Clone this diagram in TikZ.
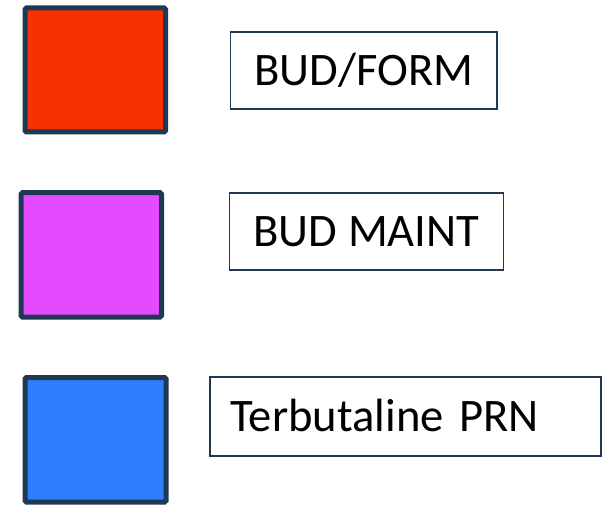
\documentclass[tikz,border=0pt]{standalone}
\usepackage{fontspec}
\setmainfont{Carlito}
\definecolor{sqred}{RGB}{246,51,0}
\definecolor{sqmag}{RGB}{228,74,255}
\definecolor{sqblue}{RGB}{46,126,255}
\definecolor{navy}{RGB}{31,56,83}
\begin{document}
\begin{tikzpicture}[x=1pt,y=-1pt,
  sq/.style={draw=navy, line width=5pt, rounded corners=1.5pt, inner sep=0pt},
  lbl/.style={draw=navy, line width=1.8pt, inner sep=0pt, text height=30pt, text depth=0pt,
    font=\fontsize{46.6}{56}\selectfont}]
\useasboundingbox (0,0) rectangle (602,505);
\node[sq, fill=sqred, minimum width=140.5pt, minimum height=124pt] (s1) at (95.25,70) {};
\node[sq, fill=sqmag, minimum width=140.5pt, minimum height=124.3pt] (s2) at (91.25,254.85) {};
\node[sq, fill=sqblue, minimum width=141pt, minimum height=124.5pt] (s3) at (95.5,439.75) {};
\node[lbl, minimum width=266.5pt, minimum height=77.5pt] (b1) at (363.75,70.5) {BUD/FORM};
\node[lbl, minimum width=274pt, minimum height=77pt] (b2) at (366.5,231.5) {BUD MAINT};
\node[lbl, minimum height=78.7pt, text width=350pt, inner xsep=20.7pt, align=left] (b3) at (405.4,416.3) {Terbutaline PRN};
\end{tikzpicture}
\end{document}
